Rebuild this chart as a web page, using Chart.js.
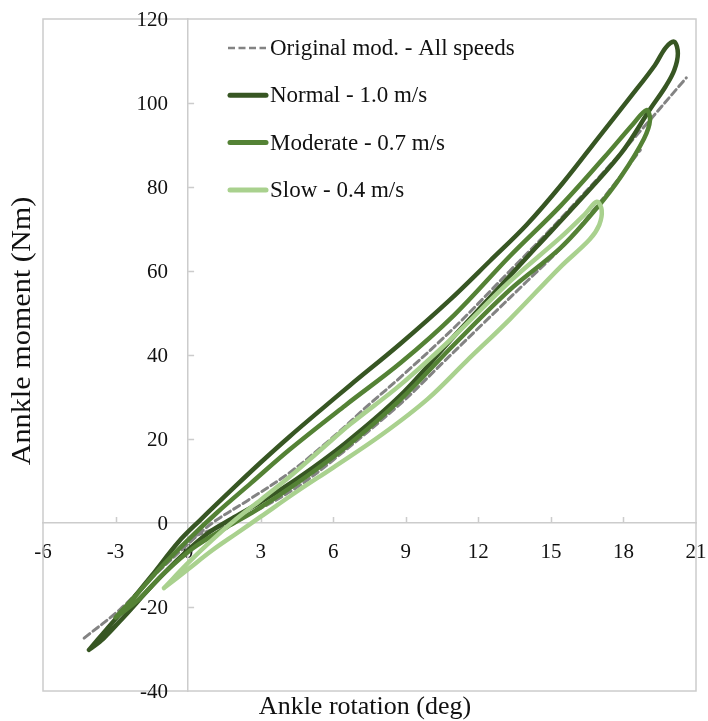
<!DOCTYPE html>
<html>
<head>
<meta charset="utf-8">
<script src="https://cdn.jsdelivr.net/npm/chart.js@4"></script>
<style>
  html, body { margin: 0; padding: 0; background: #ffffff; }
  canvas { display: block; }
</style>
</head>
<body>
<canvas id="chart" width="708" height="721"></canvas>
<script>
// Axis ticks
const xTicks = [-6, -3, 0, 3, 6, 9, 12, 15, 18, 21];
const yTicks = [-40, -20, 0, 20, 40, 60, 80, 100, 120];

// Series names (legend order)
const seriesNames = ['Original mod. - All speeds', 'Normal - 1.0 m/s', 'Moderate - 0.7 m/s', 'Slow - 0.4 m/s'];

// Original model, loading curve (deg, Nm)
const origUpperAngle  = [-4.3, -2.8, -1.4, 0, 1, 2.5, 4.2, 6, 7.5, 8.8, 11, 13.3, 15, 17, 18.8, 20.6];
const origUpperMoment = [-27.4, -20.5, -12.5, -5, 0, 5.5, 12, 20.5, 28.3, 34.8, 46.5, 60, 70, 82.4, 94, 106];

// Original model, second curve (deg, Nm)
const origLowerAngle  = [0.3, 1.5, 3, 4.5, 6, 8.8, 10.5, 12.2, 14, 15.5, 17.2, 18.7];
const origLowerMoment = [-3, -0.5, 3.5, 8.5, 15, 28.5, 38, 47.5, 57.5, 66, 77.6, 88.8];

// Normal speed loop (deg, Nm)
const normalAngle  = [-4.1, -3.4, -2.5, -1.5, -0.4, 0.5, 2, 3, 4.2, 5.5, 6.7, 8.8, 10.8, 12.5, 14, 15.5, 17, 18.3, 19.3, 19.75, 20.1, 20.25, 20.1, 19.75, 19.1, 17.9, 15.9, 14.4, 13.3, 11, 8.8, 6.5, 4.5, 3, 1.8, 0.8, -0.3, -1.5, -2.6, -3.5, -4.1];
const normalMoment = [-30.2, -25.5, -19.5, -12.5, -4.5, 0.7, 9, 14.4, 20.6, 27, 32.8, 42.8, 53, 62.5, 71, 81, 92, 101.5, 109, 113.2, 114.6, 111.8, 107.8, 104, 98.5, 88, 75, 65.7, 58.8, 44.5, 30.5, 19, 10.5, 5, 1, -2.5, -8, -15, -22, -27.5, -30.2];

// Moderate speed loop (deg, Nm)
const moderateAngle  = [-3.0, -2.2, -1.2, 0, 1.2, 2.6, 4.2, 6.5, 8.8, 11, 13.3, 15.4, 17.2, 18.4, 18.95, 19.1, 18.85, 17.9, 16.9, 15.4, 13.3, 11, 8.8, 6.5, 4.5, 2.8, 1.6, 0.2, -1, -2.1, -3.0];
const moderateMoment = [-22.5, -17.5, -11, -4, 2.5, 9.5, 17.5, 28, 38.2, 49.5, 63.5, 75.5, 87, 95, 98.3, 96, 91.5, 82.5, 75, 65.5, 55.5, 42.5, 29.5, 18, 9.5, 3, -1, -6, -12, -18.5, -22.5];

// Slow speed loop (deg, Nm)
const slowAngle  = [-1.0, 0, 1, 2, 3, 4.2, 5.5, 6.7, 8.8, 11, 13.3, 15.4, 16.4, 16.9, 17.1, 17.0, 16.6, 15.4, 13.3, 11.5, 9.9, 8, 6, 4.5, 3, 2, 1, 0, -1.0];
const slowMoment = [-15.5, -9.5, -4, 1, 5.5, 11, 17.5, 23.5, 33, 44.5, 57.5, 68, 73.5, 76.5, 74.5, 71, 67.5, 61, 48.5, 38.5, 29.5, 21, 13.2, 7.5, 1.5, -2.5, -6.5, -11, -15.5];

const COLORS = {
  original: '#838383',
  normal: '#375623',
  moderate: '#548235',
  slow: '#a9d18e',
  axis: '#cccccc',
  text: '#111111'
};
const FONT = '"Liberation Serif", "Times New Roman", serif';

function toPoints(xs, ys) {
  return xs.map((x, i) => ({ x: x, y: ys[i] }));
}

const dashed = [7, 4];

const datasets = [
  { label: seriesNames[3], data: toPoints(slowAngle, slowMoment), borderColor: COLORS.slow, borderWidth: 4.5, order: 0 },
  { label: seriesNames[2], data: toPoints(moderateAngle, moderateMoment), borderColor: COLORS.moderate, borderWidth: 4.5, order: 1 },
  { label: seriesNames[1], data: toPoints(normalAngle, normalMoment), borderColor: COLORS.normal, borderWidth: 4.5, order: 2 },
  { label: seriesNames[0], data: toPoints(origUpperAngle, origUpperMoment), borderColor: COLORS.original, borderWidth: 3, borderDash: dashed, order: 3 },
  { label: seriesNames[0], data: toPoints(origLowerAngle, origLowerMoment), borderColor: COLORS.original, borderWidth: 3, borderDash: dashed, order: 3 }
].map(d => Object.assign({
  showLine: true,
  pointRadius: 0,
  pointHoverRadius: 0,
  tension: 0.35,
  borderCapStyle: 'round',
  borderJoinStyle: 'round',
  fill: false
}, d));

// Legend entries drawn inside the plot area
const legendItems = [
  { text: seriesNames[0], color: COLORS.original, width: 2.5, dash: [7, 3.5] },
  { text: seriesNames[1], color: COLORS.normal, width: 5, dash: [] },
  { text: seriesNames[2], color: COLORS.moderate, width: 5, dash: [] },
  { text: seriesNames[3], color: COLORS.slow, width: 5, dash: [] }
];

const decorations = {
  id: 'decorations',
  beforeDatasetsDraw(chart) {
    const { ctx, chartArea: a, scales } = chart;
    const x0 = scales.x.getPixelForValue(0);
    const y0 = scales.y.getPixelForValue(0);
    ctx.save();
    ctx.strokeStyle = COLORS.axis;
    ctx.lineWidth = 1.5;
    ctx.strokeRect(a.left, a.top, a.right - a.left, a.bottom - a.top);
    // small inner tick marks on the crossing axes
    ctx.beginPath();
    xTicks.forEach(v => {
      if (v === 0 || v === xTicks[0] || v === xTicks[xTicks.length - 1]) return;
      const px = Math.round(scales.x.getPixelForValue(v)) + 0.5;
      ctx.moveTo(px, y0 - 6);
      ctx.lineTo(px, y0);
    });
    yTicks.forEach(v => {
      if (v === 0 || v === yTicks[0] || v === yTicks[yTicks.length - 1]) return;
      const py = Math.round(scales.y.getPixelForValue(v)) + 0.5;
      ctx.moveTo(x0, py);
      ctx.lineTo(x0 + 6, py);
    });
    ctx.stroke();
    // y tick labels, set to the left of the vertical axis
    ctx.font = '21px ' + FONT;
    ctx.fillStyle = COLORS.text;
    ctx.textAlign = 'right';
    ctx.textBaseline = 'middle';
    yTicks.forEach(v => {
      ctx.fillText(String(v), x0 - 20, scales.y.getPixelForValue(v) + 1);
    });
    ctx.restore();
  },
  afterDraw(chart) {
    const { ctx } = chart;
    ctx.save();
    // legend
    ctx.font = '23px ' + FONT;
    ctx.textBaseline = 'middle';
    ctx.textAlign = 'left';
    legendItems.forEach((item, i) => {
      const y = 48 + i * 47.3;
      ctx.strokeStyle = item.color;
      ctx.lineWidth = item.width;
      ctx.setLineDash(item.dash);
      ctx.lineCap = item.dash.length ? 'butt' : 'round';
      ctx.beginPath();
      ctx.moveTo(item.dash.length ? 228 : 230, y);
      ctx.lineTo(266, y);
      ctx.stroke();
      ctx.setLineDash([]);
      ctx.fillStyle = COLORS.text;
      ctx.fillText(item.text, 270, y + 1);
    });
    // axis titles
    ctx.font = '26px ' + FONT;
    ctx.fillStyle = COLORS.text;
    ctx.textAlign = 'center';
    ctx.textBaseline = 'middle';
    ctx.fillText('Ankle rotation (deg)', 365, 707);
    ctx.translate(23, 331);
    ctx.rotate(-Math.PI / 2);
    ctx.scale(1.12, 1);
    ctx.font = '27px ' + FONT;
    ctx.fillText('Annkle moment (Nm)', 0, 0);
    ctx.restore();
  }
};

// the crossing axes should not push the plot area inwards
function noScalePadding(scale) {
  scale.paddingLeft = 0;
  scale.paddingRight = 0;
  scale.paddingTop = 0;
  scale.paddingBottom = 0;
}

new Chart(document.getElementById('chart'), {
  type: 'scatter',
  data: { datasets: datasets },
  plugins: [decorations],
  options: {
    responsive: false,
    animation: false,
    devicePixelRatio: 1,
    layout: { padding: { left: 43, right: 12, top: 19, bottom: 30 } },
    plugins: {
      legend: { display: false },
      title: { display: false },
      tooltip: { enabled: false }
    },
    scales: {
      x: {
        type: 'linear',
        min: -6,
        max: 21,
        position: { y: 0 },
        afterBuildTicks: s => { s.ticks = xTicks.map(v => ({ value: v })); },
        afterFit: noScalePadding,
        grid: { display: false, drawTicks: false },
        border: { display: true, color: COLORS.axis, width: 1.5 },
        ticks: { font: { family: FONT, size: 21 }, color: COLORS.text, padding: 17, maxRotation: 0, autoSkip: false }
      },
      y: {
        type: 'linear',
        min: -40,
        max: 120,
        position: { x: 0 },
        afterBuildTicks: s => { s.ticks = yTicks.map(v => ({ value: v })); },
        afterFit: noScalePadding,
        grid: { display: false, drawTicks: false },
        border: { display: true, color: COLORS.axis, width: 1.5 },
        ticks: { display: false }
      }
    }
  }
});
</script>
</body>
</html>
